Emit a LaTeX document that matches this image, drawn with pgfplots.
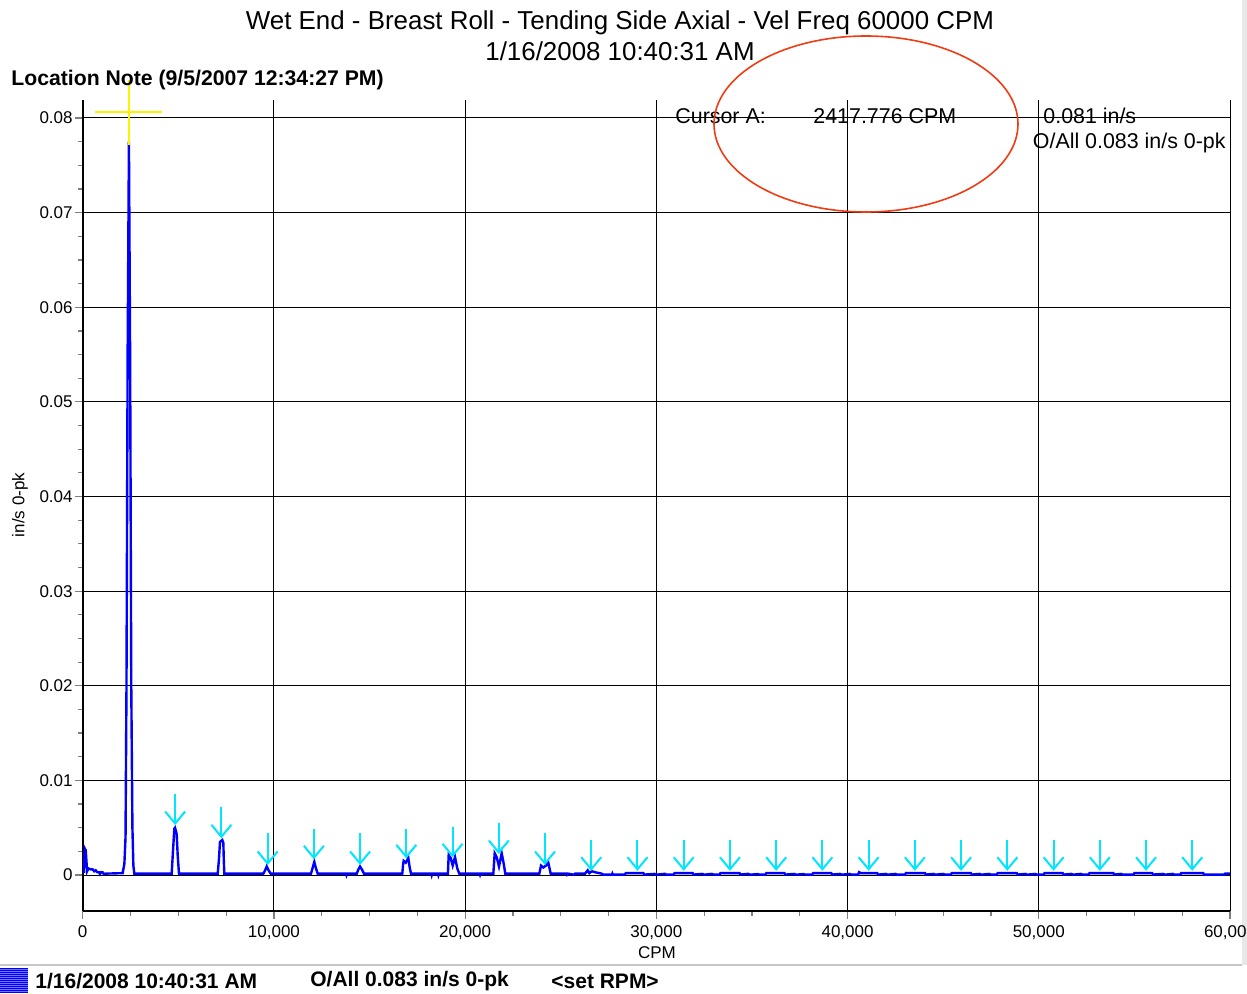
\documentclass[border=0pt]{standalone}
\usepackage{fontspec}
\setmainfont{Liberation Sans}
\usepackage{pgfplots}
\pgfplotsset{compat=1.18}
\usepackage{pgfplotstable}
\usetikzlibrary{arrows.meta}
\definecolor{arrowcyan}{RGB}{0,230,255}
\definecolor{ellred}{RGB}{240,60,20}
\definecolor{sepgray}{RGB}{200,200,200}
\definecolor{stripgray}{RGB}{232,232,232}

\pgfplotstableread{
cpm val
60 0.0002
110 0.0028
160 0.0026
230 0.0004
300 0.0007
420 0.0006
520 0.0006
600 0.0004
680 0.0005
760 0.0003
850 0.0003
900 0.0001
960 0.0003
1040 0.0003
1100 0.0001
1200 0.00015
2090 0.0002
2180 0.0012
2240 0.004
2290 0.02
2350 0.055
2418 0.0775
2480 0.055
2540 0.02
2600 0.005
2650 0.001
2700 0.00015
4654 0.00015
4720 0.0025
4793 0.0049
4829 0.0050
4870 0.0047
4916 0.0043
4970 0.002
5036 0.00015
7060 0.00015
7120 0.0015
7180 0.0035
7300 0.0037
7355 0.0034
7380 0.0015
7406 0.00015
9446 0.00015
9540 0.0005
9622 0.0009
9720 0.0005
9832 0.00015
11940 0.00015
12030 0.0008
12113 0.0014
12200 0.0007
12290 0.00015
13780 0.00015
13800 0.0
13830 0.00015
14330 0.00015
14420 0.0006
14502 0.0009
14600 0.0006
14711 0.00015
16714 0.00015
16760 0.0012
16787 0.0015
16892 0.0013
17029 0.0018
17100 0.0008
17170 0.00015
18230 0.00015
18250 0.0
18270 0.00015
18580 0.00015
18600 0.0
18620 0.00015
19100 0.00015
19140 0.0021
19245 0.0018
19350 0.0010
19470 0.0019
19590 0.0007
19695 0.00015
20760 0.00015
20780 0.00003
20800 0.00015
21475 0.00015
21546 0.0023
21650 0.0019
21770 0.0009
21913 0.0023
22017 0.0012
22100 0.00015
23880 0.00015
23970 0.0010
24090 0.0008
24230 0.0010
24350 0.0013
24475 0.00015
25300 0.00015
25330 0.00003
25380 0.00015
25700 0.00003
25750 0.00015
26270 0.00015
26410 0.0005
26495 0.0002
26620 0.0004
26790 0.0003
27140 0.00015
27200 0.00005
27680 0.00005
27700 0.00015
27720 0.00005
28350 0.00005
28400 0.0002
29320 0.0002
29380 0.00005
29900 0.00012
30000 0.00004
30450 0.00013
30500 0.00004
30900 0.00005
30950 0.0002
31900 0.0002
31950 0.00005
32400 0.00012
32500 0.00004
32900 0.00012
33000 0.00004
33300 0.00005
33350 0.0002
34350 0.0002
34400 0.00005
34800 0.00013
34900 0.00004
35300 0.0001
35400 0.00004
35700 0.00005
35750 0.0002
36700 0.0002
36750 0.00005
37200 0.00012
37300 0.00004
37700 0.0001
37800 0.00004
38150 0.00005
38200 0.0002
39150 0.0002
39200 0.00005
39600 0.00012
39700 0.00004
40100 0.00012
40200 0.00004
40550 0.00005
40600 0.0003
40700 0.0002
41550 0.0002
41600 0.00005
42000 0.00012
42100 0.00004
42500 0.00012
42600 0.00004
43000 0.00005
43050 0.0002
44050 0.0002
44100 0.00005
44500 0.00012
44600 0.00004
45000 0.00012
45100 0.00004
45400 0.00005
45450 0.0002
46450 0.0002
46500 0.00005
46900 0.00012
47000 0.00004
47400 0.00012
47500 0.00004
47800 0.00005
47850 0.0002
48850 0.0002
48900 0.00005
49300 0.00012
49400 0.00004
49800 0.00012
49900 0.00004
50250 0.00005
50300 0.0002
51250 0.0002
51300 0.00005
51700 0.00012
51800 0.00004
52200 0.00012
52300 0.00004
52600 0.00005
52650 0.0002
53900 0.0002
53950 0.00005
54300 0.00012
54400 0.00004
54950 0.00005
55000 0.0002
55930 0.0002
55980 0.00005
56500 0.00012
56600 0.00004
57000 0.00012
57100 0.00004
57400 0.00005
57450 0.0002
58600 0.0002
58650 0.00005
59700 0.00005
59750 0.00015
60000 0.00015
}\spectrum

\pgfplotstableread{
x y v
4835 0.00856 -0.00328
7253 0.00715 -0.00327
9671 0.00441 -0.00335
12089 0.00486 -0.0032
14507 0.00441 -0.00335
16924 0.00486 -0.0031
19342 0.0051 -0.00323
21760 0.00546 -0.00324
24178 0.00441 -0.00335
26595 0.0037 -0.00325
29013 0.0037 -0.00325
31431 0.0037 -0.00325
33849 0.0037 -0.00325
36267 0.0037 -0.00325
38685 0.0037 -0.00325
41102 0.0037 -0.00325
43520 0.0037 -0.00325
45938 0.0037 -0.00325
48356 0.0037 -0.00325
50774 0.0037 -0.00325
53191 0.0037 -0.00325
55609 0.0037 -0.00325
58027 0.0037 -0.00325
}\arrows

\begin{document}
\begin{tikzpicture}
\path[use as bounding box] (0,0) rectangle (623.5pt,496.5pt);
\fill[stripgray] (621pt,14pt) rectangle (623.5pt,496.5pt);
\draw[sepgray, line width=0.8pt] (0,14pt) -- (621pt,14pt);

\begin{axis}[
  at={(41.35pt,41pt)}, anchor=south west,
  scale only axis, width=573.65pt, height=405.5pt,
  xmin=0, xmax=60000, ymin=-0.0038, ymax=0.0819,
  axis x line*=bottom, axis y line*=left,
  axis line style={black, line width=0.9pt, -},
  grid=major, major grid style={black, line width=0.5pt},
  xtick={0,10000,20000,30000,40000,50000,60000},
  ytick={0,0.01,0.02,0.03,0.04,0.05,0.06,0.07,0.08},
  minor x tick num=3, minor y tick num=3,
  tick align=outside, major tick length=4pt, minor tick length=2.5pt,
  every tick/.style={gray, line width=0.6pt},
  scaled x ticks=false, scaled y ticks=false,
  /pgf/number format/assume math mode=true,
  xticklabel style={/pgf/number format/1000 sep={,}, font=\fontsize{8.5}{10}\selectfont},
  yticklabel style={/pgf/number format/fixed, /pgf/number format/precision=2, font=\fontsize{8.5}{10}\selectfont, xshift=2.5pt},
  clip=false,
]
\addplot[blue, line width=1.2pt, no markers] table[x=cpm, y=val] {\spectrum};
\addplot[arrowcyan, line width=1pt, no markers,
  quiver={u=0, v=\thisrow{v}},
  -{Straight Barb[length=6pt, width=10pt, line width=1pt]}] table[x=x, y=y] {\arrows};
\addplot[yellow, line width=1pt, no markers] coordinates {(2418,0.0771) (2418,0.0840)};
\addplot[yellow, line width=1pt, no markers] coordinates {(643,0.0806) (4147,0.0806)};
\end{axis}

% titles
\node[font=\fontsize{12.95}{14}\selectfont] at (310pt,485pt) {Wet End - Breast Roll - Tending Side Axial - Vel Freq 60000 CPM};
\node[font=\fontsize{12.95}{14}\selectfont] at (310pt,471pt) {1/16/2008 10:40:31 AM};
\node[font=\bfseries\fontsize{10.6}{12}\selectfont, anchor=west, inner sep=0pt] at (5.5pt,456.5pt) {Location Note (9/5/2007 12:34:27 PM)};
% cursor info
\node[font=\fontsize{10.7}{12}\selectfont, anchor=west, inner sep=0pt] at (337.5pt,438.5pt) {Cursor A:};
\node[font=\fontsize{10.7}{12}\selectfont, anchor=west, inner sep=0pt] at (406.5pt,438.5pt) {2417.776 CPM};
\node[font=\fontsize{10.7}{12}\selectfont, anchor=west, inner sep=0pt] at (521.5pt,438.5pt) {0.081 in/s};
\node[font=\fontsize{10.7}{12}\selectfont, anchor=east, inner sep=0pt] at (613pt,425pt) {O/All 0.083 in/s 0-pk};
\draw[ellred, line width=0.8pt] (433pt,434.5pt) ellipse [x radius=76pt, y radius=44pt];
% axis labels
\node[font=\fontsize{8.5}{10}\selectfont, rotate=90] at (10pt,244pt) {in/s 0-pk};
\node[font=\fontsize{8.5}{10}\selectfont] at (328.5pt,20pt) {CPM};
% bottom legend
\fill[blue] (0,0) rectangle (14pt,12.5pt);
\foreach \i in {1,2,...,12} {\draw[blue!55!white, line width=0.3pt] (0,\i pt) -- (14pt,\i pt);}
\node[font=\bfseries\fontsize{10.5}{12}\selectfont, anchor=west, inner sep=0pt] at (17.5pt,6pt) {1/16/2008 10:40:31 AM};
\node[font=\bfseries\fontsize{10.5}{12}\selectfont, anchor=west, inner sep=0pt] at (155pt,6pt) {O/All 0.083 in/s 0-pk};
\node[font=\bfseries\fontsize{10.5}{12}\selectfont, anchor=west, inner sep=0pt] at (275.5pt,6pt) {<set RPM>};
\end{tikzpicture}
\end{document}
